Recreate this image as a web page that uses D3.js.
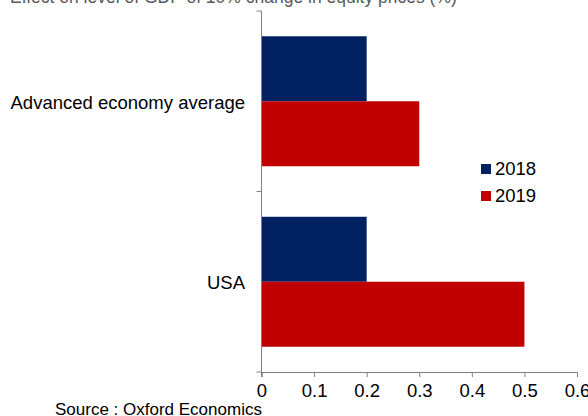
<!DOCTYPE html>
<html>
<head>
<meta charset="utf-8">
<script src="https://cdn.jsdelivr.net/npm/d3@7"></script>
<style>
  body { margin: 0; background: #fff; }
  text { font-family: "Liberation Sans", Arial, sans-serif; }
</style>
</head>
<body>
<div id="graph"></div>
<script>
// Data
var categories = ["Advanced economy average", "USA"];
var years = ["2018", "2019"];
var values2018 = [0.2, 0.2];
var values2019 = [0.3, 0.5];
var xTicks = [0, 0.1, 0.2, 0.3, 0.4, 0.5, 0.6];
var colors = ["#002060", "#C00000"];

var width = 588;
var height = 416;

var svg = d3.select("#graph")
  .append("svg")
  .attr("width", width)
  .attr("height", height);

// Scales
var xScale = d3.scaleLinear()
  .domain([0, 0.6])
  .range([261.5, 577]);

var yScale = d3.scaleBand()
  .domain(categories)
  .range([11, 372])
  .paddingInner(0.28)
  .paddingOuter(0.14);

var subScale = d3.scaleBand()
  .domain(years)
  .range([0, yScale.bandwidth()]);

// Title (cut off at top, as in the original)
svg.append("text")
  .attr("x", 10)
  .attr("y", 3)
  .attr("font-size", 17.5)
  .attr("fill", "#595959")
  .text("Effect on level of GDP of 10% change in equity prices (%)");

// Bars
var series = [values2018, values2019];
series.forEach(function(vals, i) {
  svg.append("g")
    .selectAll("rect")
    .data(categories)
    .enter()
    .append("rect")
    .attr("x", xScale(0))
    .attr("y", function(d) { return yScale(d) + subScale(years[i]); })
    .attr("width", function(d, j) { return xScale(vals[j]) - xScale(0); })
    .attr("height", subScale.bandwidth())
    .attr("fill", colors[i]);
});

// X axis
var xAxis = svg.append("g")
  .attr("transform", "translate(0,372)")
  .call(d3.axisBottom(xScale).tickValues(xTicks).tickSize(5).tickPadding(7)
    .tickFormat(function(d) { return d === 0 ? "0" : d3.format(".1f")(d); }));
xAxis.select(".domain").attr("stroke", "#808080");
xAxis.selectAll(".tick line").attr("stroke", "#808080");
xAxis.selectAll("text").attr("font-size", 18.5).attr("fill", "#000")
  .style("font-family", "'Liberation Sans', Arial, sans-serif");

// Y axis: line with ticks at category boundaries
var yAxisG = svg.append("g");
yAxisG.append("line")
  .attr("x1", xScale(0)).attr("x2", xScale(0))
  .attr("y1", yScale.range()[0]).attr("y2", yScale.range()[1] + 5)
  .attr("stroke", "#808080");
var bounds = [yScale.range()[0], (yScale.range()[0] + yScale.range()[1]) / 2, yScale.range()[1]];
yAxisG.selectAll(".yt")
  .data(bounds)
  .enter()
  .append("line")
  .attr("x1", xScale(0) - 5).attr("x2", xScale(0))
  .attr("y1", function(d) { return d; }).attr("y2", function(d) { return d; })
  .attr("stroke", "#808080");

// Category labels
svg.selectAll(".cat")
  .data(categories)
  .enter()
  .append("text")
  .attr("x", 245)
  .attr("y", function(d) { return yScale(d) + yScale.bandwidth() / 2 + 1; })
  .attr("dy", "0.35em")
  .attr("text-anchor", "end")
  .attr("font-size", 18.5)
  .attr("fill", "#000")
  .text(function(d) { return d; });

// Legend
var legend = svg.append("g").attr("transform", "translate(481,162)");
years.forEach(function(y, i) {
  legend.append("rect")
    .attr("x", 0)
    .attr("y", i * 27 + 2)
    .attr("width", 10)
    .attr("height", 10)
    .attr("fill", colors[i]);
  legend.append("text")
    .attr("x", 14)
    .attr("y", i * 27 + 7)
    .attr("dy", "0.35em")
    .attr("font-size", 18.5)
    .attr("fill", "#000")
    .text(y);
});

// Source
svg.append("text")
  .attr("x", 55)
  .attr("y", 415)
  .attr("font-size", 17)
  .attr("fill", "#000")
  .text("Source : Oxford Economics");
</script>
</body>
</html>
